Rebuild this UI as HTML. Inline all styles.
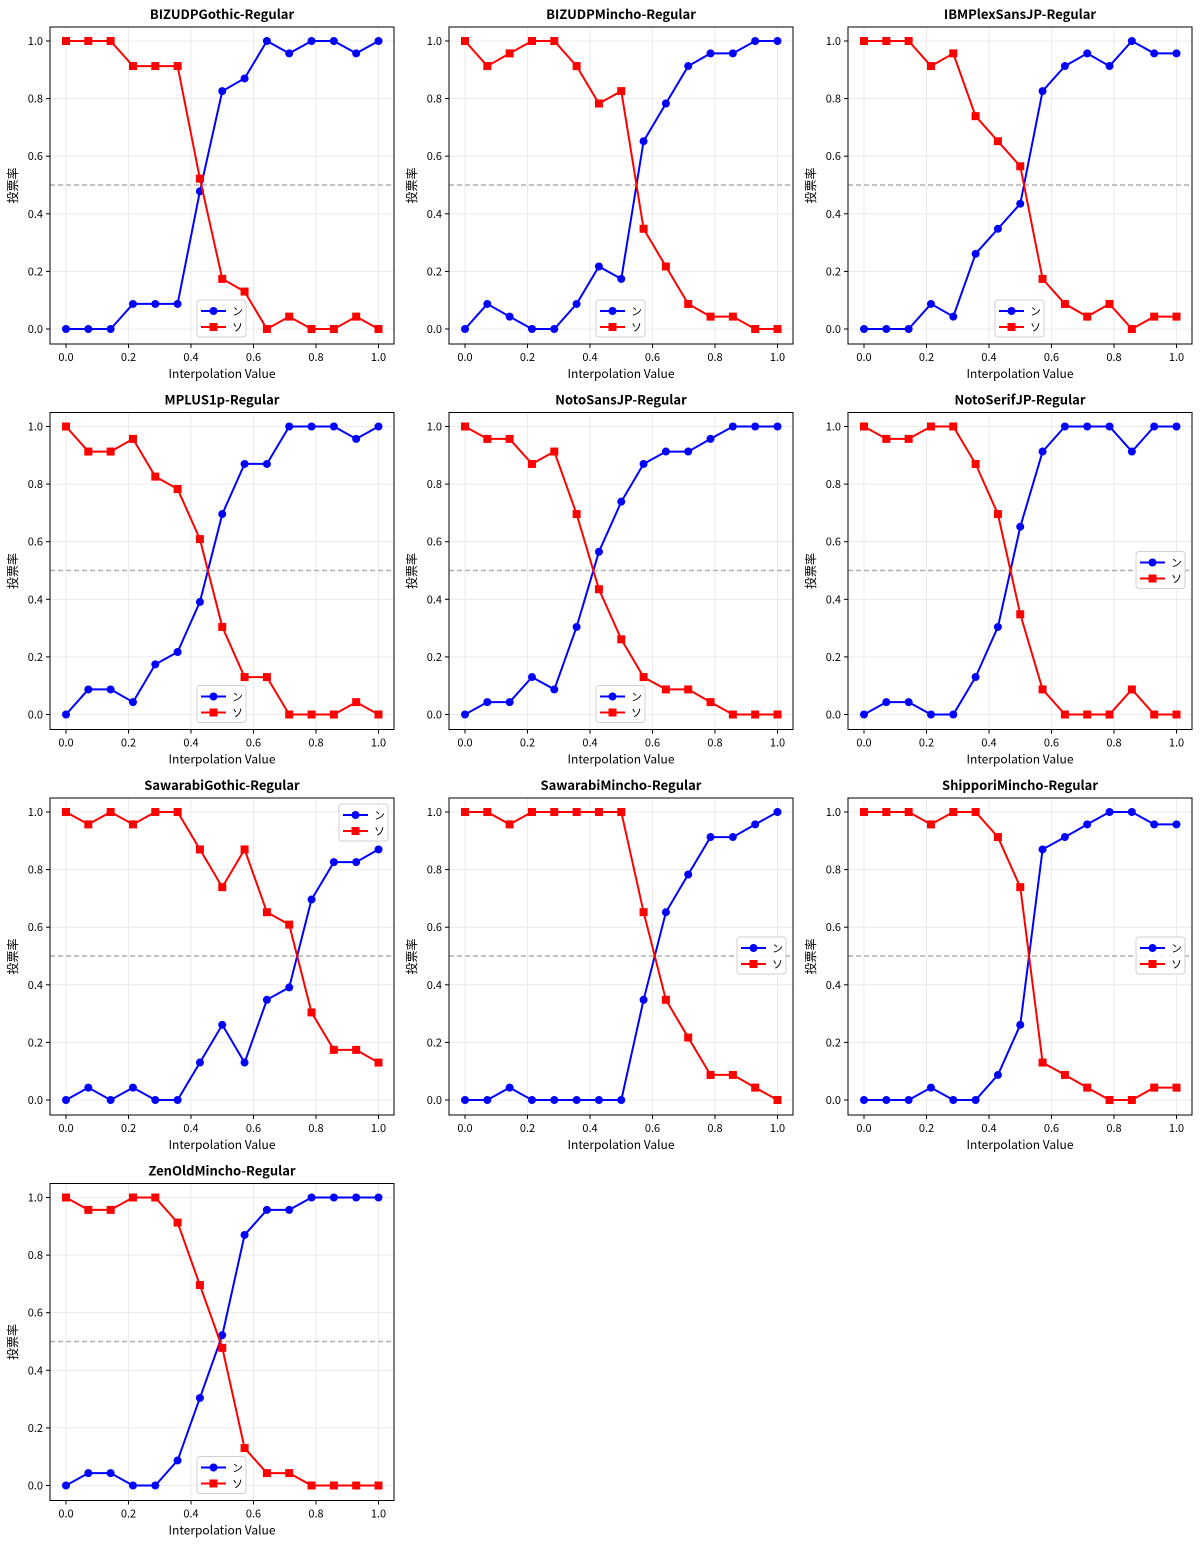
<!DOCTYPE html>
<html><head><meta charset="utf-8">
<style>
html,body{margin:0;padding:0;background:#fff;}
svg text{font-family:"Noto Sans CJK JP","Liberation Sans",sans-serif;fill:#000;}
</style></head>
<body>
<svg id="s" xmlns="http://www.w3.org/2000/svg" width="1200" height="1546" viewBox="0 0 1200 1546"></svg>
<script>
const D=[
["BIZUDPGothic-Regular",[0,0,0,.087,.087,.087,.478,.826,.870,1,.957,1,1,.957,1],"lc"],
["BIZUDPMincho-Regular",[0,.087,.043,0,0,.087,.217,.174,.652,.783,.913,.957,.957,1,1],"lc"],
["IBMPlexSansJP-Regular",[0,0,0,.087,.043,.261,.348,.435,.826,.913,.957,.913,1,.957,.957],"lc"],
["MPLUS1p-Regular",[0,.087,.087,.043,.174,.217,.391,.696,.870,.870,1,1,1,.957,1],"lc"],
["NotoSansJP-Regular",[0,.043,.043,.130,.087,.304,.565,.739,.870,.913,.913,.957,1,1,1],"lc"],
["NotoSerifJP-Regular",[0,.043,.043,0,0,.130,.304,.652,.913,1,1,1,.913,1,1],"cr"],
["SawarabiGothic-Regular",[0,.043,0,.043,0,0,.130,.261,.130,.348,.391,.696,.826,.826,.870],"ur"],
["SawarabiMincho-Regular",[0,0,.043,0,0,0,0,0,.348,.652,.783,.913,.913,.957,1],"cr"],
["ShipporiMincho-Regular",[0,0,0,.043,0,0,.087,.261,.870,.913,.957,1,1,.957,.957],"cr"],
["ZenOldMincho-Regular",[0,.043,.043,0,0,.087,.304,.522,.870,.957,.957,1,1,1,1],"lc"]
];
let h='';
D.forEach((d,i)=>{
 const c=i%3,r=Math.floor(i/3);
 const L=50+c*399,R=L+344,T=27+r*385.5,B=T+317;
 const X=v=>L+16+v*312.5, Y=v=>T+14+(1-v)*288;
 for(let k=0;k<=5;k++){const v=k/5;
  h+=`<line x1="${X(v)}" y1="${T}" x2="${X(v)}" y2="${B}" stroke="#e6e6e6" stroke-width="0.8"/>`;
  h+=`<line x1="${L}" y1="${Y(v)}" x2="${R}" y2="${Y(v)}" stroke="#e6e6e6" stroke-width="0.8"/>`;
  h+=`<line x1="${X(v)}" y1="${B}" x2="${X(v)}" y2="${B+4}" stroke="#000"/>`;
  h+=`<text x="${X(v)}" y="${B+17}" font-size="11" text-anchor="middle">${v.toFixed(1)}</text>`;
  h+=`<line x1="${L-4}" y1="${Y(v)}" x2="${L}" y2="${Y(v)}" stroke="#000"/>`;
  h+=`<text x="${L-7}" y="${Y(v)+4}" font-size="11" text-anchor="end">${v.toFixed(1)}</text>`;
 }
 h+=`<line x1="${L}" y1="${Y(.5)}" x2="${R}" y2="${Y(.5)}" stroke="#b0b0b0" stroke-width="1.5" stroke-dasharray="5,3"/>`;
 const b=d[1], rd=b.map(v=>1-v);
 const pts=a=>a.map((v,j)=>`${X(j/14).toFixed(1)},${Y(v).toFixed(1)}`).join(' ');
 h+=`<polyline points="${pts(b)}" fill="none" stroke="#0000ff" stroke-width="2"/>`;
 b.forEach((v,j)=>h+=`<circle cx="${X(j/14)}" cy="${Y(v)}" r="4" fill="#0000ff"/>`);
 h+=`<polyline points="${pts(rd)}" fill="none" stroke="#ff0000" stroke-width="2"/>`;
 rd.forEach((v,j)=>h+=`<rect x="${X(j/14)-4}" y="${Y(v)-4}" width="8" height="8" fill="#ff0000"/>`);
 h+=`<rect x="${L}" y="${T}" width="344" height="317" fill="none" stroke="#000" stroke-width="1"/>`;
 let lx,ly;
 if(d[2]=="lc"){lx=L+147;ly=B-44;}
 else if(d[2]=="cr"){lx=R-56;ly=T+139;}
 else {lx=R-55;ly=T+6;}
 h+=`<rect x="${lx}" y="${ly}" width="49" height="37" rx="3" fill="#fff" fill-opacity="0.85" stroke="#d0d0d0"/>`;
 h+=`<line x1="${lx+4}" y1="${ly+11}" x2="${lx+29}" y2="${ly+11}" stroke="#0000ff" stroke-width="2"/><circle cx="${lx+16.5}" cy="${ly+11}" r="4" fill="#0000ff"/>`;
 h+=`<text x="${lx+35}" y="${ly+15}" font-size="11">ン</text>`;
 h+=`<line x1="${lx+4}" y1="${ly+27}" x2="${lx+29}" y2="${ly+27}" stroke="#ff0000" stroke-width="2"/><rect x="${lx+12.5}" y="${ly+23}" width="8" height="8" fill="#ff0000"/>`;
 h+=`<text x="${lx+35}" y="${ly+31}" font-size="11">ソ</text>`;
 h+=`<text x="${(L+R)/2}" y="${T-8}" font-size="13" font-weight="bold" text-anchor="middle">${d[0]}</text>`;
 h+=`<text x="${(L+R)/2}" y="${B+34}" font-size="12" text-anchor="middle">Interpolation Value</text>`;
 h+=`<text transform="translate(${L-33},${(T+B)/2}) rotate(-90)" font-size="12" text-anchor="middle">投票率</text>`;
});
document.getElementById('s').innerHTML=h;
</script>
</body></html>
